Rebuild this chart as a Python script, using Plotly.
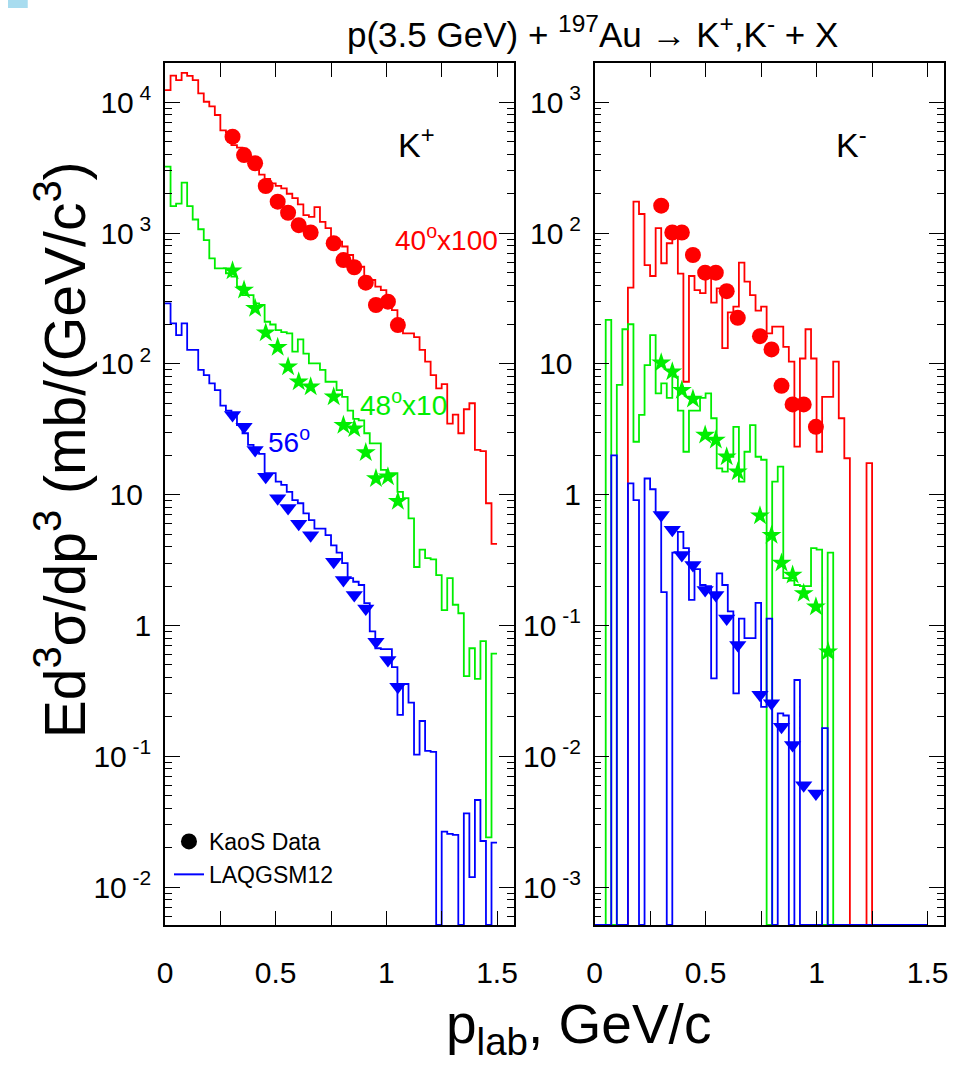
import plotly.graph_objects as go

# ---------------- data ----------------
BIN_W = 0.025
N_BINS = 60
bin_edges = [round(i * BIN_W, 4) for i in range(N_BINS + 1)]

# K+ (left panel) LAQGSM12 histograms, 60 bins of 0.025 GeV/c
kp_hist_40x100 = [1.24e4, 1.6e4, 1.48e4, 1.68e4, 1.59e4, 1.48e4, 1.17e4, 1.01e4, 9.3e3, 8.0e3,
                  6.1e3, 5.9e3, 4.7e3, 4.5e3, 3.8e3, 3.6e3, 3.2e3, 2.8e3, 2.6e3, 2.4e3,
                  2.3e3, 2.2e3, 2.0e3, 1.85e3, 1.66e3, 1.37e3, 1.33e3, 1.58e3, 1.22e3, 1.09e3,
                  910, 860, 790, 680, 600, 553, 464, 438, 390, 367,
                  327, 258, 217, 171, 171, 160, 128, 104, 82, 65,
                  70, 35, 41, 29.5, 45, 50, 22, 21.5, 8.6, 4.2]
kp_hist_48x10 = [3220, 1610, 1680, 2430, 1610, 1270, 1070, 885, 641, 538,
                 538, 493, 465, 389, 336, 336, 290, 282, 210, 200,
                 181, 175, 171, 124, 154, 120, 101, 101, 90, 73,
                 73, 63, 56, 44, 38, 37, 29.5, 24.7, 24.7, 15.5,
                 14.6, 14.6, 10.5, 9.4, 6.6, 2.8, 3.8, 3.27, 3.2, 2.43,
                 1.31, 2.3, 1.44, 1.24, 0.41, 0.67, 0.39, 0.76, 0.024, 0.61]
kp_hist_56 = [290, 204, 166, 204, 128, 128, 90, 82, 71, 63,
              48, 44, 41, 34, 29.5, 24, 21, 20.5, 14.6, 14.6,
              12.6, 11.9, 10.5, 9.1, 8.6, 7.2, 6.4, 5.5, 5.5, 4.9,
              4.1, 3.6, 3.0, 2.3, 2.16, 2.04, 1.48, 0.9, 0.67, 0.66,
              0.66, 0.48, 0.207, 0.357, 0.257, 0.103, 0.186, 0.110, 0.108, 0,
              0.0265, 0.0255, 0.0251, 0, 0.0366, 0.0119, 0.0463, 0.0225, 0, 0.0219]

# K- (right panel) LAQGSM12 histograms
km_hist_40x100 = [0, 0, 0, 0, 0, 0, 38.3, 174, 140, 57,
                  47, 109, 58.8, 83.6, 99.6, 49, 7.3, 47, 36.7, 34.7,
                  47.9, 29.4, 37.8, 13.2, 24.8, 27.4, 59.4, 42.5, 33.6, 25.5,
                  27.4, 17.1, 19.3, 19.3, 13.5, 10.4, 2.33, 11, 18.4, 11,
                  2.13, 5.6, 5.6, 10.4, 3.84, 1.9, 0, 0, 0, 1.74,
                  0, 0, 0, 0, 0, 0, 0, 0, 0, 0]
km_hist_48x10 = [0, 0, 21.7, 0, 6.9, 18.4, 20.1, 2.54, 4.07, 9.8,
                 16.6, 5.96, 7.1, 5.5, 8.0, 4.4, 2.13, 4.4, 4.4, 5.5,
                 5.96, 3.84, 1.59, 1.5, 1.95, 3.3, 1.26, 2.13, 3.4, 1.95,
                 1.85, 0, 1.26, 1.64, 0.23, 0.22, 0.204, 0.2, 0.2, 0.39,
                 0.38, 0, 0.36, 0, 0, 0, 0, 0, 0, 0,
                 0, 0, 0, 0, 0, 0, 0, 0, 0, 0]
km_hist_56 = [0, 0, 0, 2.0, 0, 0, 1.22, 0.91, 0, 1.33,
              1.1, 0.72, 0.18, 0, 0.36, 0.52, 0.39, 0.157, 0.27, 0.204,
              0.2, 0.0394, 0.25, 0.204, 0.128, 0.0303, 0.113, 0.080, 0.080, 0.149,
              0.0239, 0.113, 0, 0.0213, 0.0205, 0, 0.0383, 0, 0, 0,
              0, 0.0164, 0, 0, 0, 0, 0, 0, 0, 0,
              0, 0, 0, 0, 0, 0, 0, 0, 0, 0]

# KaoS data points
kp_p = [0.305, 0.357, 0.407, 0.455, 0.509, 0.556, 0.604, 0.658, 0.762, 0.806, 0.855, 0.907, 0.953, 1.007, 1.052]
kp_data_40x100 = [5460, 3950, 3420, 2290, 1740, 1430, 1150, 1010, 836, 622, 548, 418, 282, 299, 198]
kp_data_48x10 = [516, 367, 266, 173, 134, 95, 73, 67, 56, 34, 32, 21, 13.3, 13.7, 8.9]
kp_data_56 = [40.6, 33, 22, 13.7, 9.4, 7.9, 6.0, 4.9, 3.07, 2.23, 1.71, 1.35, 0.75, 0.545, 0.34]

km_p = [0.30, 0.35, 0.393, 0.443, 0.498, 0.546, 0.595, 0.645, 0.745, 0.797, 0.842, 0.892, 0.942, 0.997, 1.052]
km_data_40x100 = [162, 101, 101, 68, 49.8, 49.8, 36, 22.5, 16.3, 12.9, 6.8, 4.9, 4.9, 3.3]
km_data_48x10 = [10.2, 8.7, 6.3, 5.4, 2.86, 2.62, 1.95, 1.5, 0.69, 0.49, 0.30, 0.243, 0.176, 0.139, 0.063]
km_data_56 = [0.70, 0.54, 0.346, 0.29, 0.187, 0.171, 0.113, 0.071, 0.0295, 0.0254, 0.0168, 0.0122, 0.006, 0.0052]

# ---------------- style ----------------
RED, GREEN, BLUE = "#ff0000", "#00ee00", "#0000ff"
FONT = "Liberation Sans, Arial, Helvetica, sans-serif"
W, H = 965, 1069
LEFT_DOM = [159 / W, 512 / W]
RIGHT_DOM = [594 / W, 948 / W]
Y_DOM = [(H - 925) / H, (H - 63) / H]
X_MAX = 1.575
L_RANGE = [-2.29, 4.3005]
R_RANGE = [-3.29, 3.3005]

fig = go.Figure()


def hist_xy(vals, floor):
    xs, ys = [], []
    for i, v in enumerate(vals):
        xs.append(bin_edges[i])
        ys.append(v if v > 0 else floor)
    xs.append(bin_edges[-1])
    ys.append(ys[-1])
    return xs, ys


def add_hist(vals, color, xa, ya, floor):
    xs, ys = hist_xy(vals, floor)
    fig.add_trace(go.Scatter(x=xs, y=ys, mode="lines", line=dict(color=color, width=1.8, shape="hv"),
                             xaxis=xa, yaxis=ya, showlegend=False, hoverinfo="skip"))


def add_pts(xs, ys, color, symbol, size, xa, ya):
    fig.add_trace(go.Scatter(x=xs[:len(ys)], y=ys, mode="markers",
                             marker=dict(color=color, symbol=symbol, size=size, line=dict(width=0)),
                             xaxis=xa, yaxis=ya, showlegend=False))


lf = 10 ** L_RANGE[0]
rf = 10 ** R_RANGE[0]
add_hist(kp_hist_40x100, RED, "x", "y", lf)
add_hist(kp_hist_48x10, GREEN, "x", "y", lf)
add_hist(kp_hist_56, BLUE, "x", "y", lf)
add_hist(km_hist_40x100, RED, "x2", "y2", rf)
add_hist(km_hist_48x10, GREEN, "x2", "y2", rf)
add_hist(km_hist_56, BLUE, "x2", "y2", rf)

add_pts(kp_p, kp_data_40x100, RED, "circle", 16, "x", "y")
add_pts(kp_p, kp_data_48x10, GREEN, "star", 15, "x", "y")
add_pts(kp_p, kp_data_56, BLUE, "triangle-down", 15, "x", "y")
add_pts(km_p, km_data_40x100, RED, "circle", 16, "x2", "y2")
add_pts(km_p, km_data_48x10, GREEN, "star", 15, "x2", "y2")
add_pts(km_p, km_data_56, BLUE, "triangle-down", 15, "x2", "y2")

# legend entries
fig.add_trace(go.Scatter(x=[None], y=[None], mode="markers", name="KaoS Data",
                         marker=dict(color="black", symbol="circle", size=16), xaxis="x", yaxis="y"))
fig.add_trace(go.Scatter(x=[None], y=[None], mode="lines", name="LAQGSM12",
                         line=dict(color=BLUE, width=2), xaxis="x", yaxis="y"))


def sup(e):
    if e == 0:
        return "1"
    if e == 1:
        return "10\u00a0"
    return "10<sup> %d</sup>" % e


def minor_vals(lo, hi):
    out = []
    for d in range(lo, hi + 1):
        for m in range(2, 10):
            out.append(m * 10 ** d)
    return out


xtickvals = [0, 0.25, 0.5, 0.75, 1.0, 1.25, 1.5]
xticktext = ["0", "", "0.5", "", "1", "", "1.5"]

common_x = dict(range=[0, X_MAX], showline=True, linecolor="black", linewidth=1.5, mirror="allticks",
                ticks="inside", ticklen=14, tickwidth=1.2, tickcolor="black",
                tickvals=xtickvals, ticktext=xticktext, showgrid=False, zeroline=False,
                tickfont=dict(family=FONT, size=30, color="black"), ticklabelstandoff=20)

common_y = dict(showline=True, linecolor="black", linewidth=1.5, mirror="allticks",
                ticks="inside", ticklen=15, tickwidth=1.2, tickcolor="black", showgrid=False,
                tickfont=dict(family=FONT, size=30, color="black"), ticklabelstandoff=6)

fig.update_layout(
    width=W, height=H, margin=dict(l=0, r=0, t=0, b=0),
    paper_bgcolor="white", plot_bgcolor="white",
    xaxis=dict(domain=LEFT_DOM, anchor="y", **common_x),
    xaxis2=dict(domain=RIGHT_DOM, anchor="y2", **common_x),
    yaxis=dict(domain=Y_DOM, anchor="x", type="log", range=L_RANGE,
               tickvals=[10 ** e for e in range(-2, 5)], ticktext=[sup(e) for e in range(-2, 5)],
               minor=dict(tickvals=minor_vals(-3, 4), ticks="inside", ticklen=7, tickcolor="black", showgrid=False),
               **common_y),
    yaxis2=dict(domain=Y_DOM, anchor="x2", type="log", range=R_RANGE,
                tickvals=[10 ** e for e in range(-3, 4)], ticktext=[sup(e) for e in range(-3, 4)],
                minor=dict(tickvals=minor_vals(-4, 3), ticks="inside", ticklen=7, tickcolor="black", showgrid=False),
                **common_y),
    legend=dict(x=163 / W, y=1 - 820 / H, xanchor="left", yanchor="top", bgcolor="rgba(0,0,0,0)",
                font=dict(family=FONT, size=23, color="black"), tracegroupgap=2, itemwidth=30),
    showlegend=True,
)


def ann(text, x, y, size, color="black", angle=0, xref="paper", yref="paper"):
    fig.add_annotation(text=text, x=x / W, y=1 - y / H, xref=xref, yref=yref, showarrow=False,
                       font=dict(family=FONT, size=size, color=color), textangle=angle,
                       xanchor="center", yanchor="middle")


ann("p(3.5 GeV) + <sup>197</sup>Au \u2192 K<sup>+</sup>,K<sup>-</sup> + X", 592, 32, 35)
ann("K<sup>+</sup>", 414, 143, 34)
ann("K<sup>-</sup>", 854, 143, 34)
ann("40<sup>o</sup>x100", 444, 238, 28, RED)
ann("48<sup>o</sup>x10", 400, 403, 28, GREEN)
ann("56<sup>o</sup>", 285, 440, 28, BLUE)
ann("Ed<sup>3</sup>\u03c3/dp<sup>3</sup> (mb/(GeV/c<sup>3</sup>)", 54, 450, 57, angle=-90)
ann("p<sub>lab</sub>, GeV/c", 578, 1028, 55)

fig.add_shape(type="rect", xref="paper", yref="paper", x0=0, x1=20 / W, y0=1 - 8 / H, y1=1,
              fillcolor="#a8dcef", line=dict(width=0))

fig.write_html("out.html")
